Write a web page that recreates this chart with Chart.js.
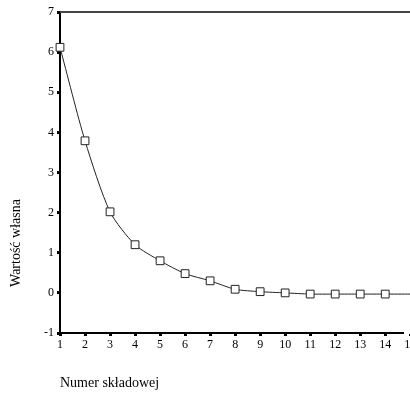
<!DOCTYPE html>
<html>
<head>
<meta charset="utf-8">
<script src="https://cdn.jsdelivr.net/npm/chart.js@4"></script>
<style>
  html, body { margin: 0; padding: 0; background: #fff; }
  #wrap { width: 410px; height: 396px; position: relative; }
</style>
</head>
<body>
<div id="wrap"><canvas id="scree"></canvas></div>
<script>
const components = [1, 2, 3, 4, 5, 6, 7, 8, 9, 10, 11, 12, 13, 14, 15];
const eigenvalues = [6.12, 3.79, 2.02, 1.2, 0.8, 0.48, 0.3, 0.09, 0.03, 0.0, -0.03, -0.03, -0.03, -0.03, -0.03];
const yTicks = [-1, 0, 1, 2, 3, 4, 5, 6, 7];

const serif = "'Liberation Serif', 'DejaVu Serif', serif";

// extra labels + top frame line
const decorations = {
  id: 'decorations',
  afterDraw(chart) {
    const { ctx, chartArea } = chart;
    ctx.save();
    ctx.strokeStyle = '#444';
    ctx.lineWidth = 2;
    ctx.beginPath();
    ctx.moveTo(chartArea.left, chartArea.top);
    ctx.lineTo(chart.width, chartArea.top);
    ctx.stroke();

    ctx.fillStyle = '#000';
    ctx.font = '14px ' + serif;
    ctx.textAlign = 'left';
    ctx.textBaseline = 'middle';
    ctx.fillText('Numer składowej', 60, 383);

    ctx.translate(16, 243);
    ctx.rotate(-Math.PI / 2);
    ctx.textAlign = 'center';
    ctx.fillText('Wartość własna', 0, 0);
    ctx.restore();
  },
};

function noPadding(scale) {
  scale.paddingLeft = 0;
  scale.paddingRight = 0;
  scale.paddingTop = 0;
  scale.paddingBottom = 0;
}

new Chart(document.getElementById('scree'), {
  type: 'line',
  data: {
    datasets: [
      {
        data: components.map((c, i) => ({ x: c, y: eigenvalues[i] })),
        borderColor: '#222',
        borderWidth: 1,
        tension: 0.25,
        pointStyle: 'rect',
        pointRadius: 5.5,
        pointBorderWidth: 1,
        pointBorderColor: '#222',
        pointBackgroundColor: '#fff',
        clip: false,
      },
    ],
  },
  options: {
    responsive: true,
    maintainAspectRatio: false,
    animation: false,
    layout: { padding: { top: 12, left: 0, right: 0, bottom: 0 } },
    plugins: { legend: { display: false }, tooltip: { enabled: false } },
    scales: {
      x: {
        type: 'linear',
        min: 1,
        max: 14.73, // the plot runs past the right edge of the picture
        afterBuildTicks(scale) {
          scale.ticks = components.map((v) => ({ value: v }));
        },
        afterFit(scale) {
          scale.height = 63;
          noPadding(scale);
        },
        border: { display: true, color: '#000', width: 2 },
        grid: { drawOnChartArea: false, tickLength: 3, tickWidth: 3, tickColor: '#000' },
        ticks: {
          color: '#000',
          font: { family: serif, size: 12 },
          padding: 2,
          maxRotation: 0,
          autoSkip: false,
        },
      },
      y: {
        type: 'linear',
        min: -1,
        max: 7,
        afterBuildTicks(scale) {
          scale.ticks = yTicks.map((v) => ({ value: v }));
        },
        afterFit(scale) {
          scale.width = 60;
          noPadding(scale);
        },
        border: { display: true, color: '#000', width: 2 },
        grid: { drawOnChartArea: false, tickLength: 3, tickWidth: 3, tickColor: '#000' },
        ticks: {
          color: '#000',
          font: { family: serif, size: 12 },
          padding: 3,
        },
      },
    },
  },
  plugins: [decorations],
});
</script>
</body>
</html>
